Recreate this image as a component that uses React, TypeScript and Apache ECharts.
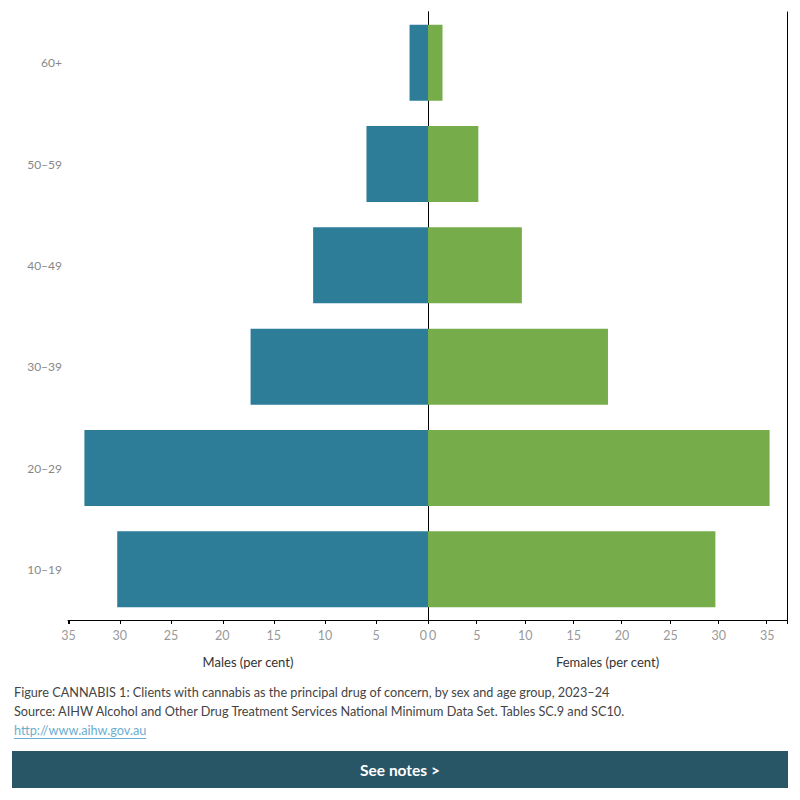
import React, { useEffect, useRef } from "react";
import * as echarts from "echarts";

// Age groups, bottom to top
const ageGroups = ["10–19", "20–29", "30–39", "40–49", "50–59", "60+"];
// Per cent of clients in each age group
const malesPct = [30.3, 33.5, 17.3, 11.2, 6.0, 1.8];
const femalesPct = [29.7, 35.3, 18.6, 9.7, 5.2, 1.5];

const captionLines = [
  "Figure CANNABIS 1: Clients with cannabis as the principal drug of concern, by sex and age group, 2023–24",
  "Source: AIHW Alcohol and Other Drug Treatment Services National Minimum Data Set. Tables SC.9 and SC10.",
];
const sourceLink = "http://www.aihw.gov.au";

const MALE_COLOR = "#2d7d98";
const FEMALE_COLOR = "#76ad4a";
const LINK_COLOR = "#6aaed0";
const FONT = "Lato, 'Open Sans', sans-serif";
const CAPTION_FONT = `12.7px ${FONT}`;

function measure(text: string, font: string): number {
  const ctx = document.createElement("canvas").getContext("2d");
  if (!ctx) return text.length * 6.5;
  ctx.font = font;
  return ctx.measureText(text).width;
}

export default function App() {
  const ref = useRef<HTMLDivElement>(null);

  useEffect(() => {
    if (!ref.current) return;
    const chart = echarts.init(ref.current, null, { renderer: "svg" });

    const tickLabel = (v: number) => (Math.abs(v % 5) < 1e-9 ? String(v) : "");
    const linkWidth = measure(sourceLink, CAPTION_FONT);

    const commonX = {
      type: "value",
      min: 0,
      interval: 5,
      splitLine: { show: false },
      axisLine: { show: true, lineStyle: { color: "#000", width: 1 } },
      axisTick: { show: true, length: 4, lineStyle: { color: "#000" } },
      nameLocation: "middle",
      nameGap: 35,
      nameTextStyle: { color: "#333", fontSize: 13, fontFamily: FONT },
    };

    chart.setOption({
      animation: false,
      backgroundColor: "#fff",
      grid: [
        { left: 68, top: 12, width: 360, height: 608 },
        { left: 428, top: 12, width: 359, height: 608 },
      ],
      xAxis: [
        {
          ...commonX,
          gridIndex: 0,
          max: 35.1,
          inverse: true,
          name: "Males (per cent)",
          axisLabel: {
            color: "#999",
            fontSize: 12.5,
            fontFamily: FONT,
            margin: 9,
            formatter: tickLabel,
            alignMinLabel: "right",
            padding: [0, 1, 0, 0],
          },
        },
        {
          ...commonX,
          gridIndex: 1,
          max: 37.1,
          name: "Females (per cent)",
          axisLabel: {
            color: "#999",
            fontSize: 12.5,
            fontFamily: FONT,
            margin: 9,
            formatter: tickLabel,
            alignMinLabel: "left",
            padding: [0, 0, 0, 1],
          },
        },
      ],
      yAxis: [
        {
          type: "category",
          gridIndex: 0,
          position: "left",
          data: ageGroups,
          axisLine: { show: true, lineStyle: { color: "#000" } },
          axisTick: { show: false },
          axisLabel: { color: "#888", fontSize: 12, fontFamily: FONT, margin: 6 },
        },
        {
          type: "category",
          gridIndex: 1,
          position: "left",
          data: ageGroups,
          axisLine: { show: true, lineStyle: { color: "#000" } },
          axisTick: { show: false },
          axisLabel: { show: false },
        },
        {
          type: "category",
          gridIndex: 1,
          position: "right",
          data: ageGroups,
          axisLine: { show: true, lineStyle: { color: "#000" } },
          axisTick: { show: false },
          axisLabel: { show: false },
        },
      ],
      series: [
        {
          name: "Males",
          type: "bar",
          xAxisIndex: 0,
          yAxisIndex: 0,
          data: malesPct,
          barCategoryGap: "25%",
          itemStyle: { color: MALE_COLOR },
          z: 1,
        },
        {
          name: "Females",
          type: "bar",
          xAxisIndex: 1,
          yAxisIndex: 1,
          data: femalesPct,
          barCategoryGap: "25%",
          itemStyle: { color: FEMALE_COLOR },
          z: 1,
        },
      ],
      graphic: [
        {
          type: "text",
          left: 14,
          top: 685,
          style: { text: captionLines[0], fill: "#444", font: CAPTION_FONT },
        },
        {
          type: "text",
          left: 14,
          top: 704,
          style: { text: captionLines[1], fill: "#444", font: CAPTION_FONT },
        },
        {
          type: "text",
          left: 14,
          top: 723,
          style: { text: sourceLink, fill: LINK_COLOR, font: CAPTION_FONT },
        },
        {
          type: "line",
          shape: { x1: 14, y1: 738.5, x2: 14 + linkWidth, y2: 738.5 },
          style: { stroke: LINK_COLOR, lineWidth: 1 },
        },
        {
          type: "rect",
          shape: { x: 12, y: 751, width: 776, height: 37 },
          style: { fill: "#285667" },
        },
        {
          type: "text",
          x: 400,
          y: 770,
          style: {
            text: "See notes >",
            fill: "#fff",
            font: `bold 15.5px ${FONT}`,
            align: "center",
            verticalAlign: "middle",
          },
        },
      ],
    });

    return () => chart.dispose();
  }, []);

  return (
    <div
      ref={ref}
      style={{ position: "fixed", left: 0, top: 0, width: 800, height: 800 }}
    />
  );
}
